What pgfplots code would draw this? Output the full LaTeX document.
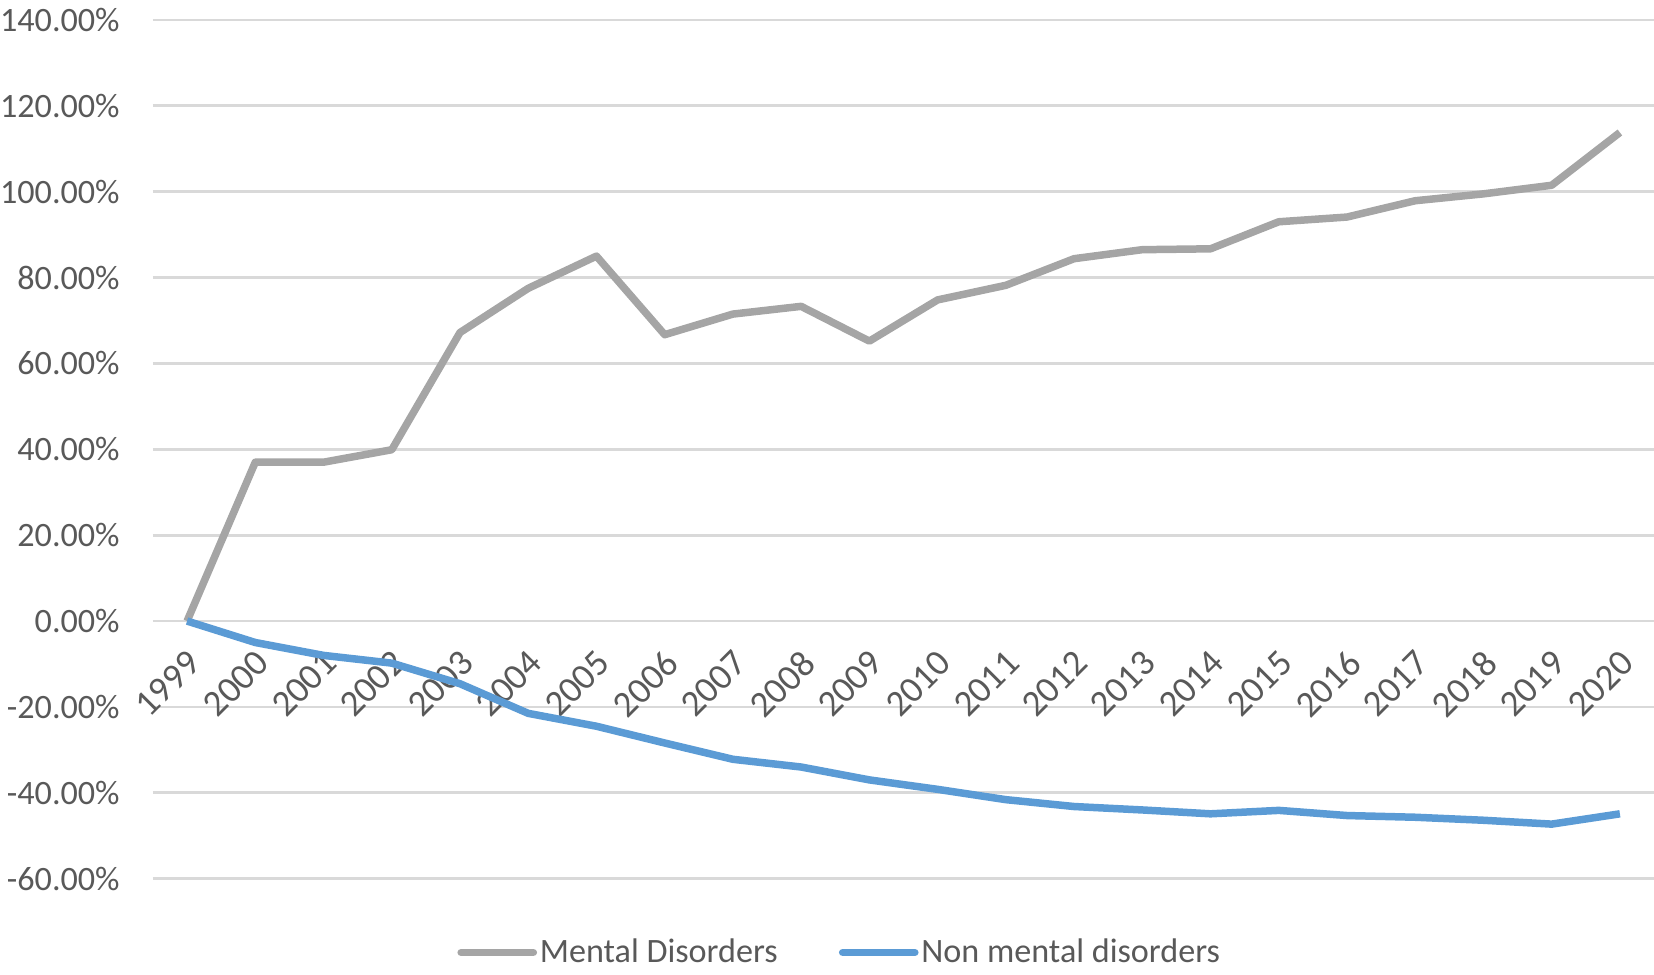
\documentclass[border=0pt]{standalone}
\usepackage{fontspec}
\setmainfont{Carlito}
\usepackage{pgfplots}
\pgfplotsset{compat=1.18}
\definecolor{mgrey}{HTML}{A5A5A5}
\definecolor{mblue}{HTML}{5B9BD5}
\definecolor{txt}{HTML}{595959}
\definecolor{gridc}{HTML}{D9D9D9}
\begin{document}
\begin{tikzpicture}
\begin{axis}[
  scale only axis, width=540.7pt, height=309.3pt,
  xmin=-0.5, xmax=21.5, ymin=-60, ymax=140,
  axis x line*=middle, axis y line*=left,
  hide obscured x ticks=false, hide obscured y ticks=false,
  x axis line style={draw=none}, y axis line style={draw=none},
  xtick={0,1,...,21},
  xticklabels={1999,2000,2001,2002,2003,2004,2005,2006,2007,2008,2009,2010,2011,2012,2013,2014,2015,2016,2017,2018,2019,2020},
  ytick={-60,-40,...,140},
  ymajorgrids, grid style={draw=gridc, line width=1pt},
  major tick length=0pt,
  /pgf/number format/assume math mode=true,
  yticklabel={\pgfmathprintnumber[fixed,fixed zerofill,precision=2]{\tick}\%},
  yticklabel style={font=\fontsize{12.3}{14}\selectfont, text=txt, anchor=east, inner sep=0pt, xshift=-11.8pt},
  xticklabel style={font=\fontsize{13.3}{15}\selectfont, text=txt, inner sep=0pt, xshift=-0.5pt, yshift=-9.7pt, rotate=45, anchor=north east},
  clip=false,
  legend style={at={(0.4578,-0.086)}, anchor=center, draw=none, fill=none,
    font=\fontsize{12.3}{14}\selectfont, text=txt, legend columns=2,
    /tikz/every even column/.append style={column sep=21pt},
    inner sep=0pt, nodes={inner sep=1pt}},
  legend image code/.code={\draw[#1, line cap=round] (0pt,0pt) -- (26pt,0pt);},
]
\addplot[mgrey, line width=2.7pt, line join=round] coordinates {
(0,0) (1,37.0) (2,37.0) (3,39.9) (4,67.2) (5,77.5) (6,85.0) (7,66.7) (8,71.5) (9,73.3) (10,65.2)
(11,74.8) (12,78.2) (13,84.4) (14,86.5) (15,86.7) (16,93.0) (17,94.1) (18,97.9) (19,99.5) (20,101.5) (21,113.8)};
\addlegendentry{Mental Disorders}
\addplot[mblue, line width=2.7pt, line join=round] coordinates {
(0,0) (1,-5.0) (2,-8.0) (3,-9.8) (4,-14.6) (5,-21.5) (6,-24.5) (7,-28.4) (8,-32.2) (9,-34.0) (10,-37.0)
(11,-39.2) (12,-41.6) (13,-43.2) (14,-44.0) (15,-44.9) (16,-44.1) (17,-45.3) (18,-45.7) (19,-46.4) (20,-47.3) (21,-44.9)};
\addlegendentry{Non mental disorders}
\end{axis}
\pgfresetboundingbox
\path[use as bounding box] ([xshift=-55.1pt,yshift=-34.6pt]current axis.south west) rectangle ([yshift=7.2pt]current axis.north east);
\end{tikzpicture}
\end{document}
